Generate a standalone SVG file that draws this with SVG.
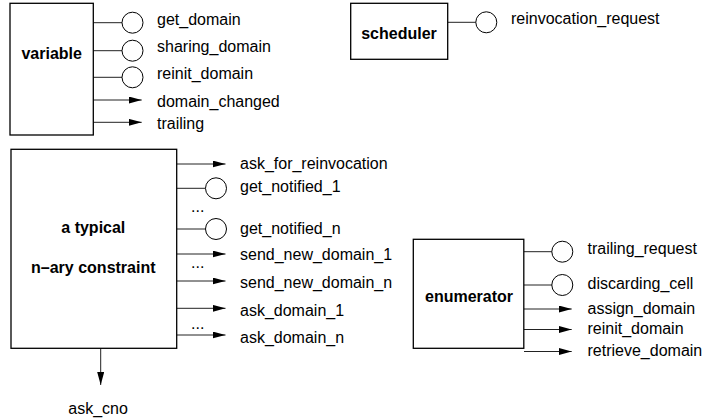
<svg xmlns="http://www.w3.org/2000/svg" width="706" height="418" viewBox="0 0 706 418">
<defs>
<marker id="ah" markerUnits="userSpaceOnUse" markerWidth="14" markerHeight="8" refX="13" refY="3.5" orient="auto">
<path d="M0,0 L13,3.5 L0,7 z" fill="#000"/>
</marker>
<style>
.box{fill:#fff;stroke:#000;stroke-width:1.3}
.ln{stroke:#222;stroke-width:1;fill:none}
.arr{stroke:#222;stroke-width:1;fill:none;marker-end:url(#ah)}
.cir{fill:#fff;stroke:#000;stroke-width:1}
.lbl{font-family:"Liberation Sans",Arial,sans-serif;font-size:16px;fill:#000}
.name{font-family:"Liberation Sans",Arial,sans-serif;font-size:16px;font-weight:bold;fill:#000;text-anchor:middle}
</style>
</defs>
<rect width="706" height="418" fill="#fff"/>

<g id="connectors">
<!-- variable -->
<line class="ln" x1="93" y1="22.7" x2="122" y2="22.7"/>
<line class="ln" x1="93" y1="50.7" x2="122" y2="50.7"/>
<line class="ln" x1="93" y1="77.3" x2="122" y2="77.3"/>
<line class="arr" x1="93" y1="100" x2="141.7" y2="100"/>
<line class="arr" x1="93" y1="122.3" x2="141.7" y2="122.3"/>
<!-- scheduler -->
<line class="ln" x1="448" y1="22.3" x2="476" y2="22.3"/>
<!-- constraint -->
<line class="arr" x1="177" y1="164" x2="225.5" y2="164"/>
<line class="ln" x1="177" y1="188.3" x2="205.5" y2="188.3"/>
<line class="ln" x1="177" y1="229" x2="205.5" y2="229"/>
<line class="arr" x1="177" y1="254" x2="225.5" y2="254"/>
<line class="arr" x1="177" y1="281" x2="225.5" y2="281"/>
<line class="arr" x1="177" y1="308.3" x2="225.5" y2="308.3"/>
<line class="arr" x1="177" y1="335" x2="225.5" y2="335"/>
<line class="arr" x1="100.7" y1="348.3" x2="100.7" y2="385"/>
<!-- enumerator -->
<line class="ln" x1="524" y1="251.7" x2="552" y2="251.7"/>
<line class="ln" x1="524" y1="285" x2="552" y2="285"/>
<line class="arr" x1="524" y1="309" x2="571.7" y2="309"/>
<line class="arr" x1="524" y1="329.5" x2="571.7" y2="329.5"/>
<line class="arr" x1="524" y1="351.5" x2="571.7" y2="351.5"/>
</g>

<g id="variable">
<rect class="box" x="10" y="3.3" width="83.3" height="131.7"/>
<text class="name" x="51.7" y="59">variable</text>
<circle class="cir" cx="132.5" cy="22.7" r="10.5"/>
<circle class="cir" cx="132.5" cy="50.7" r="10.5"/>
<circle class="cir" cx="132.5" cy="77.3" r="10.5"/>
<text class="lbl" x="157" y="24.5">get_domain</text>
<text class="lbl" x="157" y="51.5">sharing_domain</text>
<text class="lbl" x="157" y="79">reinit_domain</text>
<text class="lbl" x="157" y="106.5">domain_changed</text>
<text class="lbl" x="157" y="129">trailing</text>
</g>

<g id="scheduler">
<rect class="box" x="350.7" y="3.3" width="97" height="56"/>
<text class="name" x="399" y="39">scheduler</text>
<circle class="cir" cx="486.3" cy="22.3" r="10.5"/>
<text class="lbl" x="511" y="24">reinvocation_request</text>
</g>

<g id="constraint">
<rect class="box" x="11" y="149.3" width="165.7" height="199"/>
<text class="name" x="93.3" y="232.7">a typical</text>
<text class="name" x="93.3" y="273.3">n–ary constraint</text>
<circle class="cir" cx="216" cy="188.3" r="10.5"/>
<circle class="cir" cx="216" cy="229" r="10.5"/>
<text class="lbl" x="240" y="169.3">ask_for_reinvocation</text>
<text class="lbl" x="240" y="191.7">get_notified_1</text>
<text class="lbl" x="191" y="212">...</text>
<text class="lbl" x="240" y="234.3">get_notified_n</text>
<text class="lbl" x="240" y="260">send_new_domain_1</text>
<text class="lbl" x="191" y="267.5">...</text>
<text class="lbl" x="240" y="287.7">send_new_domain_n</text>
<text class="lbl" x="240" y="316">ask_domain_1</text>
<text class="lbl" x="191" y="328.5">...</text>
<text class="lbl" x="240" y="343.3">ask_domain_n</text>
<text class="lbl" x="68.3" y="414">ask_cno</text>
</g>

<g id="enumerator">
<rect class="box" x="413.3" y="239.3" width="110.5" height="109"/>
<text class="name" x="469" y="301.7">enumerator</text>
<circle class="cir" cx="562.3" cy="251.7" r="10.5"/>
<circle class="cir" cx="562.3" cy="285" r="10.5"/>
<text class="lbl" x="587.5" y="253.5">trailing_request</text>
<text class="lbl" x="587.5" y="288.5">discarding_cell</text>
<text class="lbl" x="587.5" y="314.3">assign_domain</text>
<text class="lbl" x="587.5" y="334.3">reinit_domain</text>
<text class="lbl" x="587.5" y="356">retrieve_domain</text>
</g>
</svg>
